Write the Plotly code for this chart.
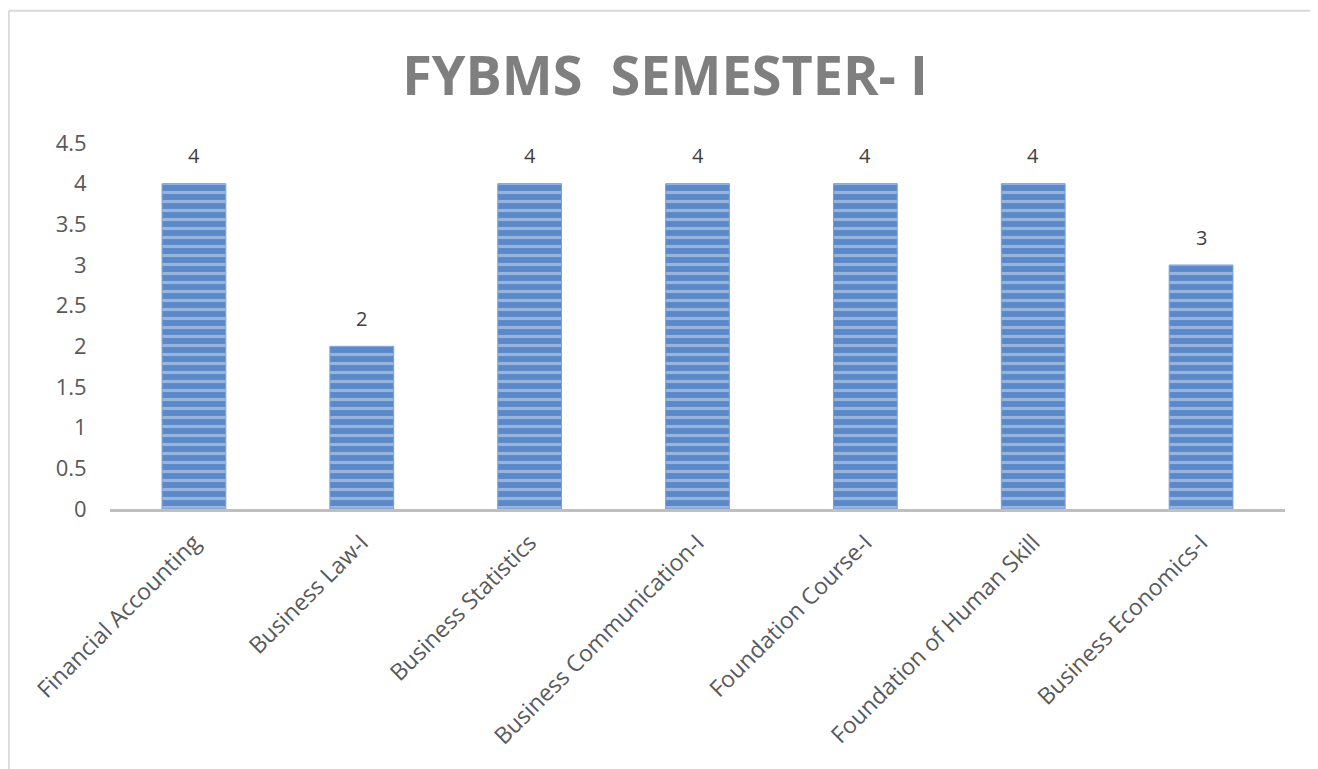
import plotly.graph_objects as go

subjects = ["Financial Accounting", "Business Law-I", "Business Statistics",
            "Business Communication-I", "Foundation Course-I",
            "Foundation of Human Skill", "Business Economics-I"]
credits = [4, 2, 4, 4, 4, 4, 3]
y_ticks = [0, 0.5, 1, 1.5, 2, 2.5, 3, 3.5, 4, 4.5]

fig = go.Figure(go.Bar(
    x=subjects,
    y=credits,
    width=0.38,
    marker=dict(
        color="#5b88c8",
        line=dict(color="#7aa1d6", width=1),
        pattern=dict(shape="-", fgcolor="#d3e0f2", bgcolor="#5b88c8",
                     size=9, solidity=0.35, fillmode="overlay"),
    ),
    showlegend=False,
    hoverinfo="x+y",
))

# data labels sit a bit higher than plotly's "outside" text
for s, c in zip(subjects, credits):
    fig.add_annotation(x=s, y=c, text=str(c), showarrow=False,
                       yshift=28, font=dict(size=20, color="#404040"))

fig.update_layout(
    width=1318, height=769,
    title=dict(text="<b>FYBMS  SEMESTER- I</b>", x=0.4985, xanchor="center",
               y=0.912, yanchor="middle",
               font=dict(size=54, color="#7f7f7f", family="Open Sans")),
    font=dict(family="Open Sans", color="#595959"),
    # page body has 8px margin, so offsets are shifted by that
    margin=dict(l=102, r=41, t=135, b=268),
    paper_bgcolor="white",
    plot_bgcolor="white",
    xaxis=dict(
        tickangle=-45,
        tickfont=dict(size=23, color="#595959"),
        ticklabelstandoff=8,
        showline=True, linecolor="#bfbfbf", linewidth=3,
        showgrid=False, ticks="",
    ),
    yaxis=dict(
        range=[0, 4.5],
        tickvals=y_ticks,
        ticktext=[str(v) for v in y_ticks],
        tickfont=dict(size=22, color="#595959"),
        showgrid=False, zeroline=False, showline=False,
        ticks="outside", ticklen=18, tickcolor="rgba(0,0,0,0)",
    ),
    shapes=[
        dict(type="line", xref="paper", yref="paper",
             x0=-0.0862, x1=1.05, y0=1.361, y1=1.361,
             line=dict(color="#d9d9d9", width=2)),
        dict(type="line", xref="paper", yref="paper",
             x0=-0.0862, x1=-0.0862, y0=1.361, y1=-0.75,
             line=dict(color="#d9d9d9", width=2)),
    ],
)

fig.write_html("out.html")
